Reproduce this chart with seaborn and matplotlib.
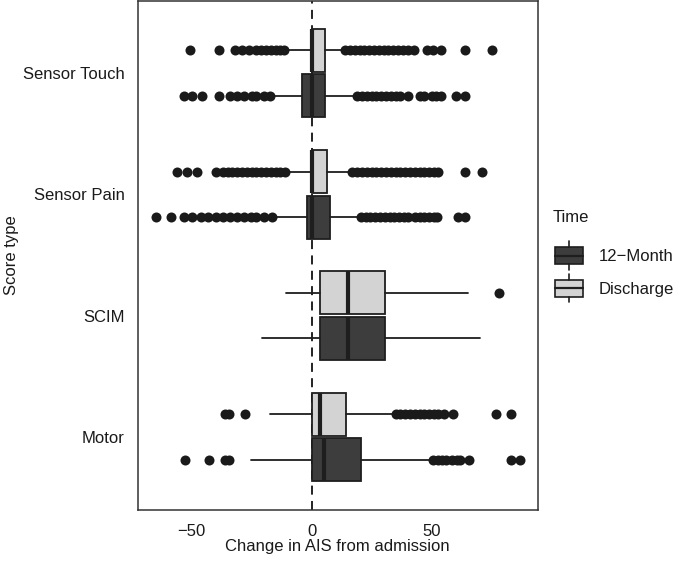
import matplotlib
matplotlib.use("Agg")
import matplotlib.pyplot as plt
import seaborn as sns
import pandas as pd
from matplotlib.legend_handler import HandlerBase
from matplotlib.patches import Patch, Rectangle
from matplotlib.lines import Line2D

# ---------------- data ----------------
categories = ["Sensor Touch", "Sensor Pain", "SCIM", "Motor"]
times = ["Discharge", "12\u2212Month"]

# Discharge box statistics (per category, top to bottom)
dis_q1 = [0.0, 0.0, 3.3, 0.3]
dis_med = [0.0, 0.0, 15.0, 3.3]
dis_q3 = [5.4, 6.3, 30.4, 14.4]
dis_lo = [-10.0, -10.0, -10.6, -17.5]
dis_hi = [13.0, 16.0, 65.3, 34.5]

# 12-Month box statistics
m12_q1 = [-4.0, -2.0, 3.3, 0.3]
m12_med = [0.0, 0.0, 15.0, 5.1]
m12_q3 = [5.4, 7.5, 30.4, 20.4]
m12_lo = [-16.0, -14.3, -20.6, -25.4]
m12_hi = [17.6, 19.7, 70.0, 49.6]

# Outliers
dis_out_touch = [-50.7, -38.6, -32, -29, -26, -23, -21, -19, -17, -15, -13, -11.5,
                 14, 16, 18, 20, 22, 24, 26, 28, 30, 32, 34, 36, 38, 40, 42.5,
                 48, 50.5, 54, 64, 75]
m12_out_touch = [-53.2, -49.7, -45.5, -38.6, -34, -31, -28, -25, -23, -20, -17.5,
                 19, 21, 23, 25, 27, 29, 31, 33, 35, 37, 40,
                 45, 47, 50, 52, 54, 60, 64]
dis_out_pain = [-56, -52, -47.6, -40, -37, -35, -33, -31, -29, -27, -25, -23, -21,
                -19, -17, -15, -13, -11,
                17, 19, 21, 23, 25, 27, 29, 31, 33, 35, 37, 39, 41, 43, 45, 47,
                49, 51, 52.5, 64, 71]
m12_out_pain = [-65, -58.8, -53, -50, -46, -43, -40, -37, -34, -31, -28, -25.4,
                -23, -20, -16.4,
                20.5, 22.5, 24.5, 26.5, 28.5, 30.5, 32.5, 34.5, 36.5, 38.3, 40,
                43, 45, 47, 49, 51, 52.4, 61, 64]
dis_out_scim = [78]
m12_out_scim = []
dis_out_motor = [-36, -34.6, -27.8, 35, 37, 39, 41, 43, 45, 47, 49, 51, 52.5,
                 55, 59, 77, 83]
m12_out_motor = [-52.8, -42.8, -36, -34.6, 50.5, 52.5, 54.5, 56, 58.5, 60.5, 62,
                 65.5, 83, 87]

dis_out = [dis_out_touch, dis_out_pain, dis_out_scim, dis_out_motor]
m12_out = [m12_out_touch, m12_out_pain, m12_out_scim, m12_out_motor]

x_ticks = [-50, 0, 50]
x_label = "Change in AIS from admission"
y_label = "Score type"
legend_title = "Time"

# ---------------- style ----------------
sns.set_theme(style="white")
plt.rcParams["font.family"] = ["Liberation Sans", "DejaVu Sans"]
FS = 12
TXT = "#1a1a1a"
EDGE = "#1e1e1e"
DARK = "#3d3d3d"
LIGHT = "#d3d3d3"

fig = plt.figure(figsize=(6.73, 5.63), dpi=100)
W, H = 673, 563
left, right, top, bottom = 137.7, 537.7, 0.5, 509.5
ax = fig.add_axes([left / W, 1 - bottom / H, (right - left) / W, (bottom - top) / H])

off = 0.1875
bw = 0.355

ax.axvline(0, color="#111111", lw=1.3, ls=(0, (5, 3.5)), zorder=1)


def stats_list(q1, med, q3, lo, hi):
    return [dict(q1=a, med=b, q3=c, whislo=d, whishi=e, fliers=[])
            for a, b, c, d, e in zip(q1, med, q3, lo, hi)]


pos = list(range(len(categories)))
for st, p_off, fill in [
    (stats_list(dis_q1, dis_med, dis_q3, dis_lo, dis_hi), -off, LIGHT),
    (stats_list(m12_q1, m12_med, m12_q3, m12_lo, m12_hi), off, DARK),
]:
    ax.bxp(st, positions=[p + p_off for p in pos], widths=bw,
           orientation="horizontal", patch_artist=True, showcaps=False,
           showfliers=False, manage_ticks=False,
           boxprops=dict(facecolor=fill, edgecolor=EDGE, linewidth=1.3),
           whiskerprops=dict(color=EDGE, linewidth=1.3),
           medianprops=dict(color=EDGE, linewidth=3.0, solid_capstyle="butt"),
           zorder=2)

rows = []
for i, cat in enumerate(categories):
    for v in dis_out[i]:
        rows.append(dict(value=v, ypos=i - off))
    for v in m12_out[i]:
        rows.append(dict(value=v, ypos=i + off))
out_df = pd.DataFrame(rows)
sns.scatterplot(data=out_df, x="value", y="ypos", ax=ax, color="#1a1a1a",
                s=52, linewidth=0, legend=False, zorder=3)

ax.set_xlim(-72.5, 94.2)
ax.set_ylim(3.6, -0.6)
ax.set_xticks(x_ticks)
ax.set_xticklabels([f"{t}".replace("-", "\u2212") for t in x_ticks])
ax.set_yticks(pos)
ax.set_yticklabels(categories)
ax.tick_params(axis="both", which="both", length=5, width=1.1, color="#333333",
               labelsize=FS, labelcolor=TXT, direction="out")
ax.tick_params(axis="x", pad=5.5)
ax.tick_params(axis="y", pad=4.5)
ax.set_xlabel(x_label, fontsize=FS, color=TXT, labelpad=0)
ax.set_ylabel(y_label, fontsize=FS, color=TXT, labelpad=2.5)
for s in ax.spines.values():
    s.set_color("#333333")
    s.set_linewidth(1.1)
    s.set_visible(True)


class BoxHandler(HandlerBase):
    def create_artists(self, legend, orig_handle, xdescent, ydescent, width,
                       height, fontsize, trans):
        fill = orig_handle.get_facecolor()
        x0, y0 = -xdescent, -ydescent
        cx = x0 + width / 2
        rect = Rectangle((x0, y0), width, height, facecolor=fill,
                         edgecolor=EDGE, lw=1.2, transform=trans)
        w1 = Line2D([cx, cx], [y0 + height, y0 + height + 4], color=EDGE,
                    lw=1.2, transform=trans)
        w2 = Line2D([cx, cx], [y0, y0 - 4], color=EDGE, lw=1.2, transform=trans)
        med = Line2D([x0, x0 + width], [y0 + height / 2] * 2, color=EDGE,
                     lw=1.6, transform=trans)
        return [rect, w1, w2, med]


fig.text(553 / W, 1 - 218 / H, legend_title, fontsize=FS, color=TXT,
         ha="left", va="center")
handles = [Patch(facecolor=DARK), Patch(facecolor=LIGHT)]
labels = [times[1], times[0]]
fpx = FS * 100 / 72
leg = fig.legend(handles, labels, loc="upper left",
                 bbox_to_anchor=(555 / W, 1 - 247 / H), frameon=False,
                 borderpad=0, borderaxespad=0,
                 fontsize=FS,
                 handlelength=28 / fpx, handleheight=20 / fpx,
                 labelspacing=0.92, handletextpad=16 / fpx,
                 handler_map={Patch: BoxHandler()})
for t in leg.get_texts():
    t.set_color(TXT)

fig.savefig("out.png", dpi=100)
